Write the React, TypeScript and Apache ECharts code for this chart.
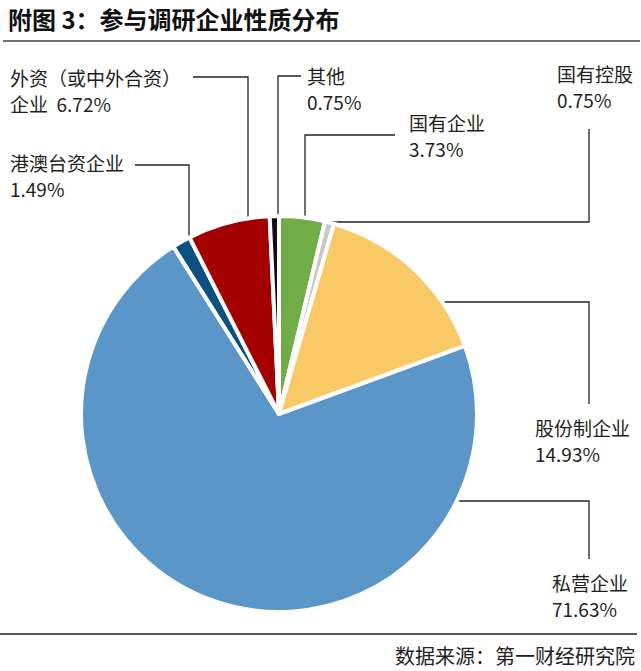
import React, { useEffect, useRef } from "react";
import * as echarts from "echarts";

const categories = ["国有企业", "国有控股", "股份制企业", "私营企业", "港澳台资企业", "外资（或中外合资）企业", "其他"];
const labelTexts = ["国有企业\n3.73%", "国有控股\n0.75%", "股份制企业\n14.93%", "私营企业\n71.63%", "港澳台资企业\n1.49%", "外资（或中外合资）\n企业  6.72%", "其他\n0.75%"];
const values = [3.73, 0.75, 14.93, 71.63, 1.49, 6.72, 0.75];
const colors = ["#70AD47", "#C8C8C8", "#F9C966", "#5B96C8", "#0C5082", "#A50000", "#111111"];

// label placement (annotation layout): label top-left and leader-line path
const labelPos = [
  [409, 109], [557, 60], [535, 414], [552, 569], [10, 149], [10, 64], [307, 62],
];
const leaderPaths = [
  [[305, 237], [305, 135], [395, 135]],
  [[330, 222], [589, 222], [589, 129]],
  [[423, 302], [589, 302], [589, 404]],
  [[395, 501], [589, 501], [589, 559]],
  [[189, 253], [189, 165], [135, 165]],
  [[248, 221], [248, 77], [193, 77]],
  [[278, 217], [278, 76], [301, 76]],
];

export default function App() {
  const ref = useRef<HTMLDivElement>(null);
  useEffect(() => {
    const chart = echarts.init(ref.current!, null, { renderer: "svg" });
    const font = '"Noto Sans CJK SC", "Noto Sans", sans-serif';
    chart.setOption({
      animation: false,
      backgroundColor: "#ffffff",
      textStyle: { fontFamily: font },
      graphic: [
        {
          type: "text",
          left: 8,
          top: 6,
          style: { text: "附图 3：参与调研企业性质分布", fontSize: 24, fontWeight: "bold", fill: "#111", fontFamily: font },
        },
        { type: "line", shape: { x1: 3, y1: 41, x2: 640, y2: 41 }, style: { stroke: "#444", lineWidth: 1.5 } },
        { type: "line", shape: { x1: 0, y1: 634, x2: 637, y2: 634 }, style: { stroke: "#222", lineWidth: 1.5 } },
        {
          type: "text",
          right: 6,
          top: 645,
          style: { text: "数据来源：第一财经研究院", fontSize: 20, fill: "#222", fontFamily: font },
        },
      ],
      series: [
        {
          type: "pie",
          center: [279, 414],
          radius: 198,
          startAngle: 90,
          clockwise: true,
          avoidLabelOverlap: false,
          emphasis: { disabled: true },
          itemStyle: { borderColor: "#ffffff", borderWidth: 4 },
          label: {
            show: true,
            position: "outside",
            formatter: (p: any) => labelTexts[p.dataIndex],
            fontSize: 19,
            lineHeight: 26,
            color: "#231F20",
            fontFamily: font,
          },
          labelLine: { show: true, smooth: false, lineStyle: { color: "#222", width: 1.3 } },
          labelLayout: (p: any) => {
            const i = p.dataIndex;
            return {
              x: labelPos[i][0],
              y: labelPos[i][1],
              align: "left",
              verticalAlign: "top",
              labelLinePoints: leaderPaths[i],
            };
          },
          data: categories.map((name, i) => ({ name, value: values[i], itemStyle: { color: colors[i] } })),
        },
      ],
    });
    return () => chart.dispose();
  }, []);
  return <div ref={ref} style={{ position: "fixed", left: 0, top: 0, width: 641, height: 671 }} />;
}
